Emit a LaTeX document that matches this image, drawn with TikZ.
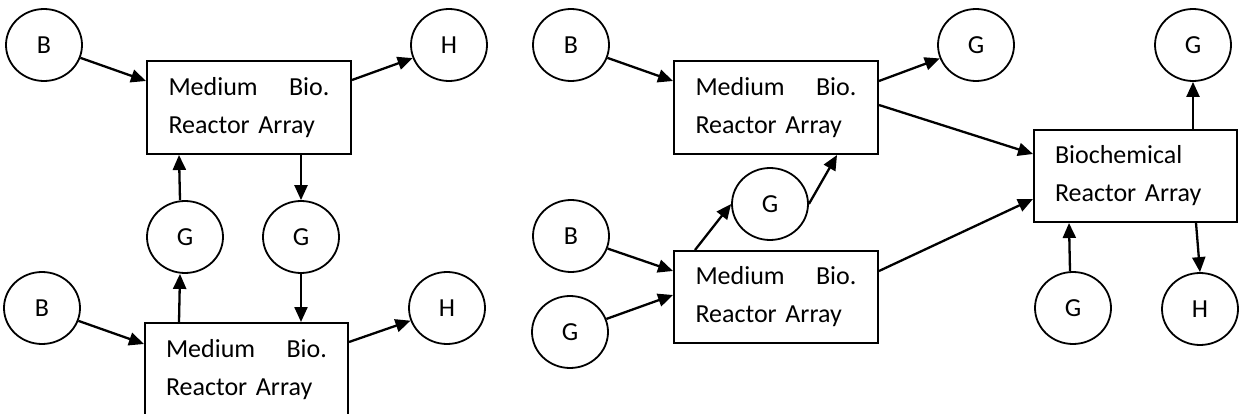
\documentclass[tikz,border=0pt]{standalone}
\usepackage{fontspec}
\setmainfont{Carlito}
\usetikzlibrary{shapes.geometric,arrows.meta,calc}
\newcommand{\medbio}{\makebox[161pt][l]{Medium\hfill Bio.}\\Reactor Array}
\begin{document}
\begin{tikzpicture}[x=1pt,y=-1pt,
  every node/.style={font=\fontsize{26}{38}\selectfont},
  circ/.style={draw, ellipse, line width=1.8pt, minimum width=76pt, minimum height=72pt, inner sep=0pt},
  rbox/.style={draw, rectangle, line width=2pt, minimum width=204pt, minimum height=93pt, inner sep=0pt, text width=161pt, align=left},
  arr/.style={-{Triangle[length=15pt,width=13pt]}, line width=2.3pt},
]
\useasboundingbox (0,0) rectangle (1241,414);
% left group
\node[circ] (B1) at (44,45) {B};
\node[circ] (H1) at (449,45) {H};
\node[circ] (Ga) at (185,237) {G};
\node[circ] (Gb) at (301,237) {G};
\node[circ] (B2) at (42,308) {B};
\node[circ] (H2) at (447,308) {H};
\node[rbox] (box1) at (249,107.5) {\medbio};
\node[rbox, minimum width=203pt] (box2) at (246.5,369.5) {\medbio};
% right group
\node[circ] (B3) at (571,45) {B};
\node[circ] (Gm) at (770,204) {G};
\node[circ] (B4) at (571,236) {B};
\node[circ] (G4) at (570,332) {G};
\node[circ] (Gt1) at (976,45) {G};
\node[circ] (Gt2) at (1193,45) {G};
\node[circ] (Gb2) at (1073,308) {G};
\node[circ] (Hb) at (1200,309) {H};
\node[rbox] (box3) at (776,107.5) {\medbio};
\node[rbox, minimum height=92pt] (box4) at (776,297) {\medbio};
\node[rbox, minimum width=203pt, minimum height=92pt] (bio) at (1135.5,176) {Biochemical\\Reactor Array};
% left connectors
\draw[arr] (B1) -- ($(box1.north west)+(0,21)$);
\draw[arr] ($(box1.north east)+(0,20)$) -- (H1);
\draw[arr] (box1.south -| Gb) -- (Gb);
\draw[arr] ($(Ga.north)+(-5,0)$) -- ($(box1.south west)+(33,0)$);
\draw[arr] ($(box2.north west)+(35,0)$) -- ($(Ga.south)+(-5,0)$);
\draw[arr] (Gb) -- (box2.north -| Gb);
\draw[arr] (B2) -- ($(box2.north west)+(0,22)$);
\draw[arr] ($(box2.north east)+(0,20)$) -- (H2);
% right connectors
\draw[arr] (B3) -- ($(box3.north west)+(0,21)$);
\draw[arr] ($(box3.north east)+(0,21)$) -- (Gt1);
\draw[arr] ($(box3.north east)+(0,45)$) -- ($(bio.north west)+(0,25)$);
\draw[arr] (B4) -- ($(box4.north west)+(0,21)$);
\draw[arr] (G4) -- ($(box4.north west)+(0,45)$);
\draw[arr] ($(box4.north west)+(22,0)$) -- (Gm.west);
\draw[arr] (Gm.east) -- ($(box3.south west)+(164,0)$);
\draw[arr] ($(box4.north east)+(0,21)$) -- ($(bio.north west)+(0,70)$);
\draw[arr] (bio.north -| Gt2) -- (Gt2);
\draw[arr] ($(Gb2.north)+(-3,0)$) -- ($(bio.south west)+(36,0)$);
\draw[arr] ($(bio.south west)+(163,0)$) -- (Hb.north);
\end{tikzpicture}
\end{document}
